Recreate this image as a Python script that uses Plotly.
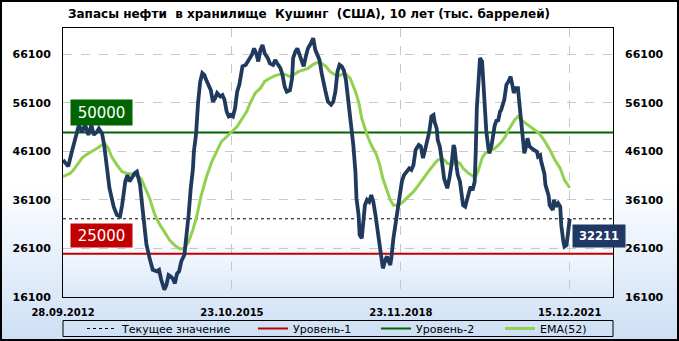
import plotly.graph_objects as go

# ---------------- data ----------------
week_idx = [0, 5, 8, 11, 13, 15, 18, 21, 24, 27, 29, 32, 34, 37, 39, 41, 44, 48, 51, 54,
            56, 59, 61, 63, 66, 68, 70, 73, 75, 77, 79, 82, 85, 89, 91, 93, 96, 98, 100, 102,
            104, 106, 108, 110, 112, 115, 117, 119, 121, 123, 124, 126, 128, 130, 132, 134, 135, 138, 140, 142,
            144, 146, 149, 151, 153, 155, 157, 159, 161, 163, 165, 167, 169, 170, 173, 176, 179, 181, 183, 185,
            187, 189, 191, 194, 196, 199, 201, 203, 206, 208, 210, 212, 215, 217, 218, 220, 222, 224, 226, 228,
            230, 232, 235, 237, 239, 241, 243, 245, 247, 249, 251, 254, 256, 258, 260, 262, 264, 266, 268, 270,
            272, 273, 275, 277, 278, 280, 281, 283, 284, 286, 288, 290, 292, 294, 296, 299, 301, 303, 306, 307,
            310, 311, 313, 316, 319, 321, 323, 325, 328, 330, 332, 334, 337, 339, 341, 343, 345, 347, 349, 351,
            352, 354, 355, 357, 359, 361, 363, 364, 366, 368, 370, 371, 373, 374, 376, 378, 379, 381, 383, 385,
            386, 388, 390, 391, 392, 394, 395, 397, 398, 400, 401, 403, 404, 406, 408, 409, 411, 412, 414, 415,
            418, 420, 422, 424, 426, 427, 429, 431, 432, 434, 435, 437, 439, 440, 442, 444, 446, 449, 450, 452,
            453, 456, 457, 460, 461, 464, 465, 467, 469, 471, 472, 474, 475, 477, 479, 480]
stocks = [44300, 43000, 45700, 48100, 50100, 51500, 50100, 51500, 49500, 51500, 49500, 50100, 50800, 49800, 47400, 43300, 38500, 34700, 33000, 32700,
          35000, 39900, 41200, 39900, 41000, 41600, 41900, 39200, 35000, 30000, 27000, 24100, 21700, 21400, 21700, 19700, 17600, 18600, 20600, 20300,
          19900, 18900, 20900, 21400, 23400, 24800, 28200, 33000, 38500, 42300, 46100, 49500, 56300, 60500, 62200, 61800, 61150, 59800, 58700, 56300,
          57000, 58100, 57400, 57700, 56700, 54300, 53300, 53600, 53300, 55000, 58400, 59800, 63200, 63600, 63900, 64900, 66000, 67300, 66300, 64600,
          67000, 68000, 66300, 65300, 64200, 63900, 64900, 64200, 63200, 61800, 59400, 58400, 58700, 61150, 65300, 66600, 67300, 66000, 64600, 63600,
          65600, 67300, 68400, 69400, 67000, 66000, 64900, 62200, 59800, 58100, 56300, 55700, 56300, 58400, 62500, 63900, 63600, 62800, 60800, 57000,
          52900, 51900, 47400, 41900, 36400, 33000, 28900, 28200, 30900, 35000, 36100, 35700, 37100, 35700, 33000, 28200, 24100, 22000, 24100, 24400,
          22700, 24100, 28200, 32300, 36400, 39900, 41200, 41900, 42600, 42300, 43300, 46400, 47400, 47100, 44700, 46400, 48400, 50150, 53300, 53600,
          52200, 50800, 48400, 47000, 44000, 40500, 39200, 38500, 40500, 43300, 47400, 46700, 42600, 41200, 39900, 35750, 35000, 34700, 36400, 37800,
          38800, 38100, 39900, 46100, 55000, 61800, 65300, 64600, 60500, 55000, 50150, 46700, 45700, 47400, 50150, 51500, 52600, 52200, 54300, 54600,
          56700, 59800, 60500, 61500, 59400, 58100, 59100, 59100, 56700, 52900, 49500, 45700, 47400, 48800, 47100, 46700, 46400, 46000, 45000, 45300,
          44000, 41500, 39200, 37000, 35000, 34000, 36100, 34700, 35400, 34700, 30900, 27500, 26500, 26800, 29800, 32211]

ema_idx = [0, 7, 10, 13, 18, 22, 27, 32, 37, 40, 43, 46, 51, 56, 60, 67, 71, 74, 78, 82,
           87, 92, 97, 101, 106, 111, 115, 119, 123, 127, 131, 136, 141, 146, 150, 155, 160, 165, 169, 174,
           177, 182, 187, 191, 196, 201, 206, 210, 215, 218, 223, 228, 232, 237, 242, 245, 249, 253, 258, 262,
           267, 272, 277, 280, 283, 288, 292, 297, 300, 303, 307, 310, 313, 318, 322, 327, 332, 337, 341, 346,
           351, 355, 359, 362, 364, 368, 373, 376, 379, 384, 389, 391, 393, 397, 400, 404, 409, 414, 419, 422,
           425, 428, 431, 434, 438, 441, 445, 451, 456, 461, 466, 471, 475, 480]
ema52 = [40900, 41600, 42300, 43300, 44700, 45400, 46000, 46700, 47400, 47550, 46700, 45000, 43300, 41900, 41600, 41400, 40900, 40500, 38500, 36500,
         33000, 30900, 29200, 27800, 26700, 26000, 26100, 27500, 29900, 33000, 37100, 40900, 44000, 46400, 48100, 49100, 50150, 51200, 52600, 54300,
         55900, 58100, 59100, 60500, 61150, 61700, 62000, 62000, 61500, 61800, 62500, 62900, 63200, 64000, 64450, 64200, 63600, 62500, 61800, 61700,
         62200, 61150, 58400, 56300, 52900, 49500, 47400, 45400, 43300, 40500, 38100, 36100, 35000, 35000, 35700, 36700, 37800, 39200, 40500, 41900,
         43300, 44300, 44600, 44200, 43600, 43400, 44000, 43600, 42600, 41600, 40900, 40900, 41900, 44700, 45700, 46200, 46700, 47700, 49100, 50500,
         51500, 52600, 53300, 52600, 51900, 51500, 50800, 49800, 48300, 46500, 44300, 42600, 40200, 38600]

level_1 = 25000
level_2 = 50000
current_value = stocks[-1]

tick_idx = [0, 160, 320, 480]
tick_labels = ["28.09.2012", "23.10.2015", "23.11.2018", "15.12.2021"]
y_ticks = [16100, 26100, 36100, 46100, 56100, 66100]

title_text = "Запасы нефти\u00a0\u00a0в хранилище\u00a0\u00a0Кушинг\u00a0\u00a0(США), 10 лет (тыс. баррелей)"

# ---------------- layout geometry ----------------
W, H = 679, 341
L, R, T, B = 63, 613, 28, 297
PW, PH = R - L, B - T
x_range = [0, 521]
y_range = [16100, 71500]


def px_x(p):
    return (p - L) / PW


def px_y(p):
    return (B - p) / PH


FONT = "DejaVu Sans"
NAVY = "#203A5E"
EMA_C = "#92D050"
RED = "#C00000"
GREEN = "#006400"


def gradient_bands(x0, x1, y_top, y_bottom, y_start, rgb, step=3):
    """White -> rgb vertical gradient as background bands (pixel coords)."""
    bands = [dict(type="rect", xref="paper", yref="paper",
                  x0=px_x(x0), x1=px_x(x1), y0=px_y(y_start + 0.5), y1=px_y(y_top),
                  fillcolor="white", line=dict(width=0), layer="below")]
    y = y_start
    while y < y_bottom:
        y2 = min(y + step, y_bottom)
        t = ((y + y2) / 2 - y_start) / (y_bottom - y_start)
        col = "rgb(%d,%d,%d)" % tuple(int(round(255 + (c - 255) * t)) for c in rgb)
        bands.append(dict(type="rect", xref="paper", yref="paper",
                          x0=px_x(x0), x1=px_x(x1), y0=px_y(y2 + 0.5), y1=px_y(y),
                          fillcolor=col, line=dict(width=0), layer="below"))
        y = y2
    return bands


fig = go.Figure()

fig.add_trace(go.Scatter(x=x_range, y=[current_value] * 2, mode="lines", name="Текущее значение",
                         line=dict(color="black", width=1, dash="3px,3px"), legend="legend",
                         hoverinfo="skip"))
fig.add_trace(go.Scatter(x=x_range, y=[level_1] * 2, mode="lines", name="Уровень-1",
                         line=dict(color=RED, width=2), legend="legend2", hoverinfo="skip"))
fig.add_trace(go.Scatter(x=x_range, y=[level_2] * 2, mode="lines", name="Уровень-2",
                         line=dict(color=GREEN, width=2), legend="legend3", hoverinfo="skip"))
fig.add_trace(go.Scatter(x=ema_idx, y=ema52, mode="lines", name="EMA(52)",
                         line=dict(color=EMA_C, width=3), legend="legend4"))
fig.add_trace(go.Scatter(x=week_idx, y=stocks, mode="lines", name="Запасы",
                         line=dict(color=NAVY, width=3.8), showlegend=False))
fig.add_trace(go.Scatter(x=ema_idx, y=ema52, mode="lines", yaxis="y2", showlegend=False,
                         line=dict(color="rgba(0,0,0,0)", width=0), hoverinfo="skip"))

legend_common = dict(orientation="h", yanchor="middle", y=px_y(328.5), xanchor="left",
                     bgcolor="rgba(0,0,0,0)", borderwidth=0,
                     font=dict(family=FONT, size=11, color="black"))

shapes = []
shapes += gradient_bands(0, W, 0, H, 180, (205, 223, 245), step=4)
shapes += gradient_bands(L, R, T, B, 235, (217, 231, 249), step=3)
shapes += [
    dict(type="rect", xref="paper", yref="paper", x0=px_x(1), x1=px_x(W - 1),
         y0=px_y(H - 1), y1=px_y(1), line=dict(color="black", width=2), layer="above"),
    dict(type="rect", xref="paper", yref="paper", x0=0, x1=1,
         y0=px_y(336.5), y1=px_y(320.5), line=dict(color="black", width=1), layer="above"),
]

fig.update_layout(
    width=W, height=H,
    margin=dict(l=L, r=W - R, t=T, b=H - B, pad=0, autoexpand=False),
    paper_bgcolor="white",
    plot_bgcolor="rgba(0,0,0,0)",
    font=dict(family=FONT, color="black"),
    title=dict(text=title_text, x=68 / W, xanchor="left", xref="container",
               y=1 - 13.5 / H, yanchor="middle", yref="container",
               font=dict(family=FONT, size=12, color="black", weight="bold")),
    xaxis=dict(range=x_range, tickmode="array", tickvals=tick_idx, ticktext=tick_labels,
               showgrid=True, gridcolor="#C8C8C8", griddash="dash", gridwidth=1,
               showline=True, linecolor="black", linewidth=1, mirror=True,
               ticks="", zeroline=False, ticklabelstandoff=6,
               tickfont=dict(family=FONT, size=10, color="black", weight="bold")),
    yaxis=dict(range=y_range, tickmode="array", tickvals=y_ticks, tickformat="d",
               showgrid=True, gridcolor="#C8C8C8", griddash="dash", gridwidth=1,
               showline=True, linecolor="black", linewidth=1, mirror=True,
               ticks="", zeroline=False, ticklabelstandoff=9,
               tickfont=dict(family=FONT, size=11, color="black", weight="bold")),
    yaxis2=dict(range=y_range, tickmode="array", tickvals=y_ticks, tickformat="d",
                overlaying="y", side="right",
                showgrid=False, zeroline=False, ticks="", ticklabelstandoff=11,
                tickfont=dict(family=FONT, size=11, color="black", weight="bold")),
    legend=dict(legend_common, x=px_x(82)),
    legend2=dict(legend_common, x=px_x(253)),
    legend3=dict(legend_common, x=px_x(376)),
    legend4=dict(legend_common, x=px_x(500)),
    showlegend=True,
    hovermode=False,
    shapes=shapes,
    annotations=[
        dict(text="50000", xref="paper", x=px_x(70), xanchor="left", yref="y", y=level_2,
             yanchor="bottom", yshift=6, showarrow=False, bgcolor=GREEN, width=59, height=23,
             font=dict(family=FONT, size=15, color="white")),
        dict(text="25000", xref="paper", x=px_x(70), xanchor="left", yref="y", y=level_1,
             yanchor="bottom", yshift=6, showarrow=False, bgcolor=RED, width=59, height=21,
             font=dict(family=FONT, size=15, color="white")),
        dict(text=str(current_value), xref="x", x=tick_idx[-1], xanchor="left", xshift=2,
             yref="y", y=current_value, yanchor="top", yshift=-5, showarrow=False,
             bgcolor="#1F3864", width=50, height=20,
             font=dict(family=FONT, size=11.5, color="white", weight="bold")),
    ],
)

fig.write_html("out.html")
